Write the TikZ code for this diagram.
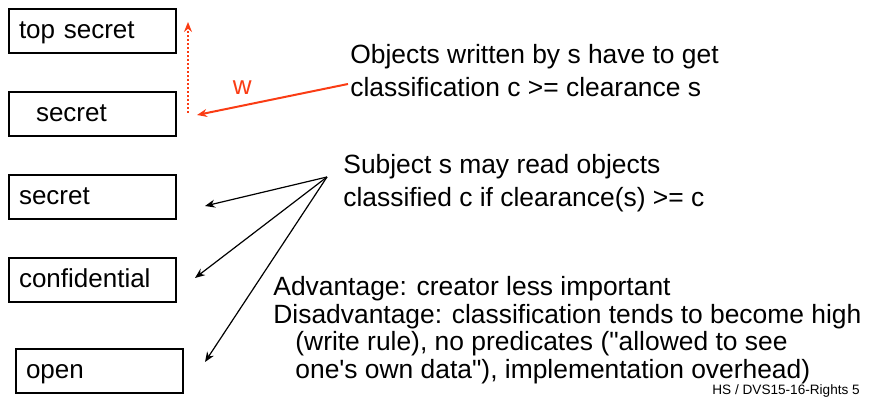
\documentclass[tikz,border=0pt]{standalone}
\usepackage{fontspec}
\setmainfont{Liberation Sans}[Ligatures=TeXOff]
\usepackage{tikz}
\usetikzlibrary{positioning, arrows.meta}

\begin{document}
\begin{tikzpicture}[x=0.5pt, y=-0.5pt, >={Stealth[length=5pt, width=4pt]},
    lvl/.style={draw, line width=1pt, anchor=north west, text width=73.5pt,
        inner xsep=5pt, minimum height=22pt, text height=10pt, text depth=2pt,
        align=left, font=\fontsize{13}{15}\selectfont},
    note/.style={anchor=north west, align=left, inner sep=0pt,
        font=\fontsize{13.2}{16.5}\selectfont}]
    % Màu
    \definecolor{wred}{RGB}{250, 60, 20}

    \useasboundingbox (0,0) rectangle (869,399);

    % 1. Các mức bảo mật
    \node[lvl] (ts) at (8,8) {top secret};
    \node[lvl] (se) at (8,91) {\hspace*{8.5pt}secret};
    \node[lvl] (sr) at (8,174) {secret};
    \node[lvl] (co) at (8,257) {confidential};
    \node[lvl] (op) at (15,348) {open};

    % 2. Các ghi chú
    \node[note] (wr) at (350,44) {Objects written by s have to get\\classification c >= clearance s};
    \node[note] (rd) at (343,154) {Subject s may read objects\\classified c if clearance(s) >= c};
    \node[note, font=\fontsize{13.2}{13.8}\selectfont] (adv) at (273,276)
        {Advantage: creator less important\\
         Disadvantage: classification tends to become high\\
         \hspace*{11pt}(write rule), no predicates ("allowed to see\\
         \hspace*{11pt}one's own data"), implementation overhead)};
    \node[anchor=south west, inner sep=0pt, font=\fontsize{6.8}{8}\selectfont] (ft) at (712,398)
        {HS / DVS15-16-Rights 5};

    % 3. Mũi tên ghi (w)
    \coordinate (wtop) at (188,22);
    \coordinate (wbot) at (188,113);
    \coordinate (wend) at (197,115);
    \coordinate (wsrc) at (348,84);
    \draw[->, wred, line width=1pt, densely dotted] (wbot) -- (wtop);
    \draw[->, wred, line width=1pt] (wsrc) -- node[above, pos=0.7, yshift=2pt, font=\fontsize{13}{15}\selectfont] {w} (wend);

    % 4. Mũi tên đọc
    \coordinate (rsrc) at (327,177);
    \coordinate (r1) at (205,206);
    \coordinate (r2) at (195,278);
    \coordinate (r3) at (205,362);
    \foreach \t in {r1, r2, r3}
        \draw[->, line width=0.6pt] (rsrc) -- (\t);
\end{tikzpicture}
\end{document}
